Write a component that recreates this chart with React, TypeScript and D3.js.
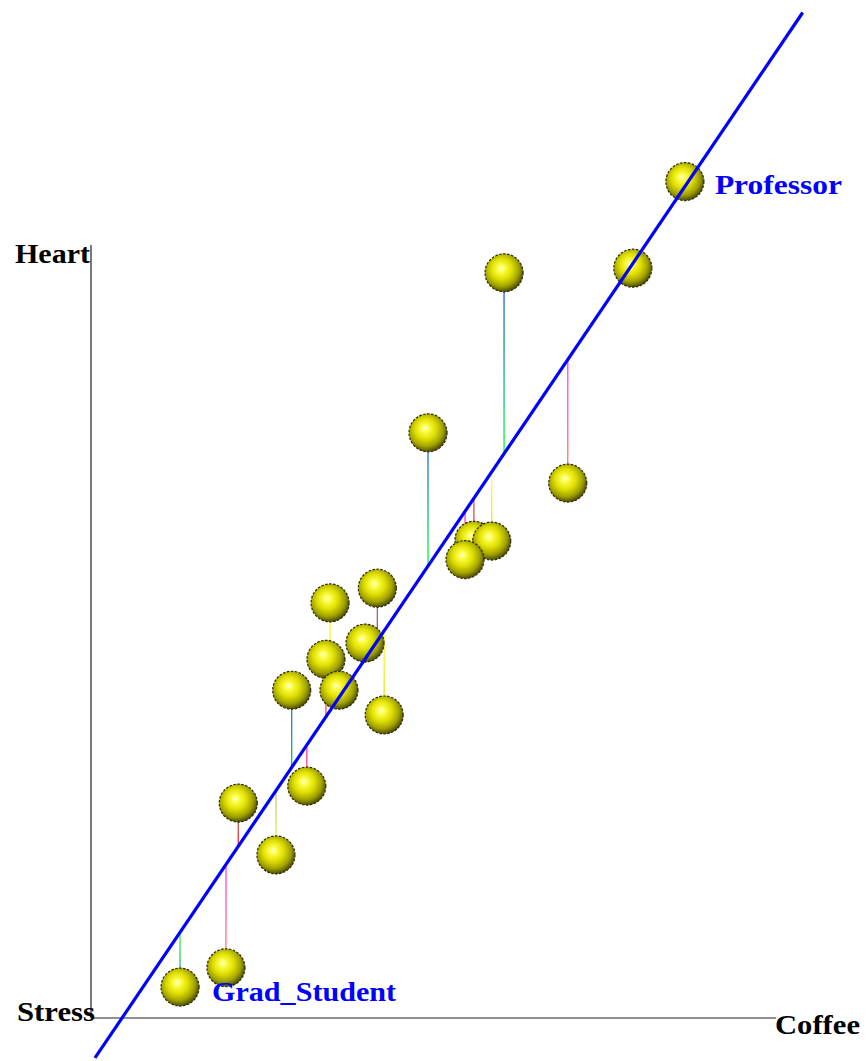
import React from "react";
import * as d3 from "d3";

// Coffee (x) and Heart (y) values of each person
const names = ["Professor","p2","p3","p4","p5","p6","p7","p8","p9","p10","p11","p12","p13","p14","p15","p16","p17","p18","p19","Grad_Student"];
const coffee = [8.67, 7.91, 6.03, 4.92, 6.96, 5.59, 5.85, 5.46, 4.18, 3.49, 4.00, 3.43, 2.93, 3.62, 4.28, 3.15, 2.15, 2.70, 1.97, 1.30];
const heart = [10.82, 9.70, 9.64, 7.57, 6.92, 6.18, 6.17, 5.93, 5.56, 5.37, 4.85, 4.64, 4.24, 4.24, 3.92, 3.00, 2.78, 2.11, 0.65, 0.40];
// residual line colours (upper end, lower end)
const resUpper = ["#ffff00","#ff8080","#2848ff","#2848ff","#ff40ff","#d05070","#ffff60","#ff40c0","#609090","#ffff40","#ff8080","#ff8080","#3060ff","#ff4040","#ffff40","#ff40c0","#808080","#c0c080","#ff40ff","#40ff40"];
const resLower = ["#ffff00","#ffff00","#00ff30","#00ff30","#ff8040","#ff4040","#e0e000","#ff60a0","#ff3030","#e0e000","#ff4040","#ff4040","#00c060","#ff2020","#e0e000","#ff4080","#ff2020","#ffff40","#ff8040","#2090a0"];
const labelled = ["Professor", "Grad_Student"];
const fitIntercept = -0.593;
const fitSlope = 1.309;
const fitRange = [0.058, 10.39];
const axisLabels = { x: "Coffee", y: "Heart", z: "Stress" };

export default function App() {
  const W = 867, H = 1061;
  const x = d3.scaleLinear().domain([0, 10]).range([91, 776]);
  const y = d3.scaleLinear().domain([0, 10]).range([1018, 245]);
  const fit = (v: number) => fitIntercept + fitSlope * v;
  const r = 19;
  const pts = names.map((n, i) => {
    const px = x(coffee[i]);
    const py = y(heart[i]);
    const ly = y(fit(coffee[i]));
    return { n, i, px, py, ly };
  });
  const line = d3.line<number>().x((v) => x(v)).y((v) => y(fit(v)));
  const font = "'Liberation Serif', 'Times New Roman', serif";
  return (
    <svg width={W} height={H} style={{ position: "absolute", left: 0, top: 0, background: "#fff" }}>
      <defs>
        <radialGradient id="ball" cx="45%" cy="42%" r="60%" fx="42%" fy="38%">
          <stop offset="0%" stopColor="#ffffe8" />
          <stop offset="14%" stopColor="#ffff50" />
          <stop offset="45%" stopColor="#e0e000" />
          <stop offset="75%" stopColor="#a0a000" />
          <stop offset="100%" stopColor="#404000" />
        </radialGradient>
        {pts.map((p) => {
          const top = Math.min(p.py, p.ly), bot = Math.max(p.py, p.ly);
          return (
            <linearGradient key={p.i} id={`res${p.i}`} gradientUnits="userSpaceOnUse" x1={p.px} x2={p.px} y1={top} y2={bot + 0.01}>
              <stop offset="0%" stopColor={resUpper[p.i]} />
              <stop offset="100%" stopColor={resLower[p.i]} />
            </linearGradient>
          );
        })}
      </defs>
      {/* axes */}
      <line x1={x(0)} y1={y(0)} x2={x(0)} y2={y(10)} stroke="#222" strokeWidth={1.2} />
      <line x1={x(0)} y1={y(0)} x2={x(10)} y2={y(0)} stroke="#222" strokeWidth={1.2} />
      {/* residuals */}
      {pts.map((p) => (
        <line key={p.i} x1={p.px} x2={p.px + 0.01} y1={p.py} y2={p.ly} stroke={`url(#res${p.i})`} strokeWidth={1.3} />
      ))}
      {/* balls */}
      {pts.map((p) => (
        <circle key={p.i} cx={p.px} cy={p.py} r={r} fill="url(#ball)" stroke="#2a2a08" strokeWidth={1.2} strokeDasharray="2.5 1.5" />
      ))}
      {/* fitted line */}
      <path d={line(fitRange) || ""} stroke="#0000ff" strokeWidth={3.2} fill="none" />
      {/* axis labels */}
      <text x={15} y={263} fontFamily={font} fontWeight="bold" fontSize={27} fill="#000" textLength={75} lengthAdjust="spacingAndGlyphs">{axisLabels.y}</text>
      <text x={17} y={1021} fontFamily={font} fontWeight="bold" fontSize={27} fill="#000" textLength={78} lengthAdjust="spacingAndGlyphs">{axisLabels.z}</text>
      <text x={775} y={1034} fontFamily={font} fontWeight="bold" fontSize={27} fill="#000" textLength={85} lengthAdjust="spacingAndGlyphs">{axisLabels.x}</text>
      {pts.filter((p) => labelled.includes(p.n)).map((p) => (
        <text key={p.n} x={p.n === "Professor" ? p.px + 30 : p.px + 32} y={p.n === "Professor" ? p.py + 12 : p.py + 14}
          fontFamily={font} fontWeight="bold" fontSize={27} fill="#0000ff"
          textLength={p.n === "Professor" ? 127 : 184} lengthAdjust="spacingAndGlyphs">{p.n}</text>
      ))}
    </svg>
  );
}
